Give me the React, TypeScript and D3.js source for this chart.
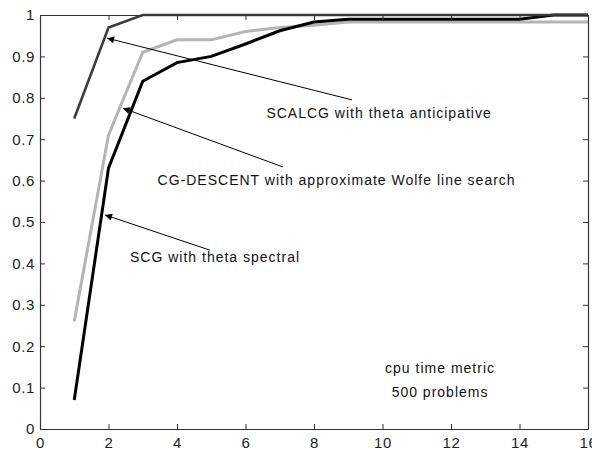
import React, { useEffect, useRef } from 'react';
import * as d3 from 'd3';

// performance profile, cpu time metric
const xVals = [1, 2, 3, 4, 5, 6, 7, 8, 9, 10, 11, 12, 13, 14, 15, 16];
const scalcg = [0.75, 0.97, 1, 1, 1, 1, 1, 1, 1, 1, 1, 1, 1, 1, 1, 1];
const cgDescent = [0.26, 0.71, 0.91, 0.94, 0.94, 0.96, 0.97, 0.975, 0.983, 0.983, 0.983, 0.983, 0.983, 0.983, 0.983, 0.983];
const scg = [0.07, 0.63, 0.84, 0.885, 0.9, 0.93, 0.962, 0.983, 0.99, 0.99, 0.99, 0.99, 0.99, 0.99, 1, 1];

const xTicks = [0, 2, 4, 6, 8, 10, 12, 14, 16];
const yTicks = [0, 0.1, 0.2, 0.3, 0.4, 0.5, 0.6, 0.7, 0.8, 0.9, 1];

// annotations in data units: arrow head, arrow tail, label position
const labels = ['SCALCG with theta anticipative', 'CG-DESCENT with approximate Wolfe line search', 'SCG with theta spectral'];
const heads = [[1.96, 0.944], [2.42, 0.775], [1.9, 0.517]];
const tails = [[9.11, 0.795], [7.09, 0.633], [4.96, 0.432]];
const labelPos = [[9.9, 0.751], [8.66, 0.589], [5.11, 0.403]];
const noteLines = ['cpu time metric', '500 problems'];
const notePos = [[11.68, 0.135], [11.68, 0.077]];

const W = 592, H = 450;
const margin = { top: 15, right: 4, bottom: 21, left: 40 };

export default function App() {
  const ref = useRef<SVGSVGElement>(null);

  useEffect(() => {
    const svg = d3.select(ref.current);
    svg.selectAll('*').remove();
    const font = 'Liberation Sans, Arial, sans-serif';

    const x = d3.scaleLinear().domain([0, 16]).range([margin.left, W - margin.right]);
    const y = d3.scaleLinear().domain([0, 1]).range([H - margin.bottom, margin.top]);

    svg.append('defs').append('marker')
      .attr('id', 'head')
      .attr('viewBox', '0 0 10 10')
      .attr('refX', 10).attr('refY', 5)
      .attr('markerWidth', 10).attr('markerHeight', 7)
      .attr('markerUnits', 'userSpaceOnUse')
      .attr('orient', 'auto')
      .append('path').attr('d', 'M0,0 L10,5 L0,10 z').attr('fill', '#000');

    const line = d3.line<number>().x((d, i) => x(xVals[i])).y(d => y(d));

    const series = [
      { data: cgDescent, color: '#b4b4b4', w: 3 },
      { data: scg, color: '#000', w: 3 },
      { data: scalcg, color: '#3c3c3c', w: 2.6 },
    ];
    series.forEach(s => {
      svg.append('path')
        .attr('d', line(s.data))
        .attr('fill', 'none')
        .attr('stroke', s.color)
        .attr('stroke-width', s.w)
        .attr('stroke-linejoin', 'miter');
    });

    // box + axes
    const axisStyle = (g: any) => {
      g.select('.domain').attr('stroke', '#333').attr('stroke-width', 1.2);
      g.selectAll('.tick line').attr('stroke', '#333');
      g.selectAll('text').attr('font-family', font).attr('font-size', 15)
        .attr('letter-spacing', 0.6).attr('fill', '#222');
    };
    svg.append('g').attr('transform', `translate(0,${H - margin.bottom})`)
      .call(d3.axisBottom(x).tickValues(xTicks).tickSize(-5).tickSizeOuter(0).tickPadding(8).tickFormat(d3.format('d')))
      .call(axisStyle);
    svg.append('g').attr('transform', `translate(0,${margin.top})`)
      .call(d3.axisTop(x).tickValues(xTicks).tickSize(-5).tickSizeOuter(0).tickFormat(() => ''))
      .call(axisStyle);
    svg.append('g').attr('transform', `translate(${margin.left},0)`)
      .call(d3.axisLeft(y).tickValues(yTicks).tickSize(-5).tickSizeOuter(0).tickPadding(5).tickFormat(d => String(+d)))
      .call(axisStyle);
    svg.append('g').attr('transform', `translate(${W - margin.right},0)`)
      .call(d3.axisRight(y).tickValues(yTicks).tickSize(-5).tickSizeOuter(0).tickFormat(() => ''))
      .call(axisStyle);

    // annotations
    labels.forEach((t, i) => {
      svg.append('line')
        .attr('x1', x(tails[i][0])).attr('y1', y(tails[i][1]))
        .attr('x2', x(heads[i][0])).attr('y2', y(heads[i][1]))
        .attr('stroke', '#000').attr('stroke-width', 1)
        .attr('marker-end', 'url(#head)');
      svg.append('text')
        .attr('x', x(labelPos[i][0])).attr('y', y(labelPos[i][1]))
        .attr('text-anchor', 'middle')
        .attr('font-family', font).attr('font-size', 14).attr('letter-spacing', 1)
        .attr('fill', '#111')
        .text(t);
    });
    noteLines.forEach((t, i) => {
      svg.append('text')
        .attr('x', x(notePos[i][0])).attr('y', y(notePos[i][1]))
        .attr('text-anchor', 'middle')
        .attr('font-family', font).attr('font-size', 14).attr('letter-spacing', 1)
        .attr('fill', '#111')
        .text(t);
    });
  }, []);

  return (
    <>
      <style>{'body{margin:0}'}</style>
      <svg ref={ref} width={W} height={H} style={{ display: 'block', background: '#fff' }} />
    </>
  );
}
